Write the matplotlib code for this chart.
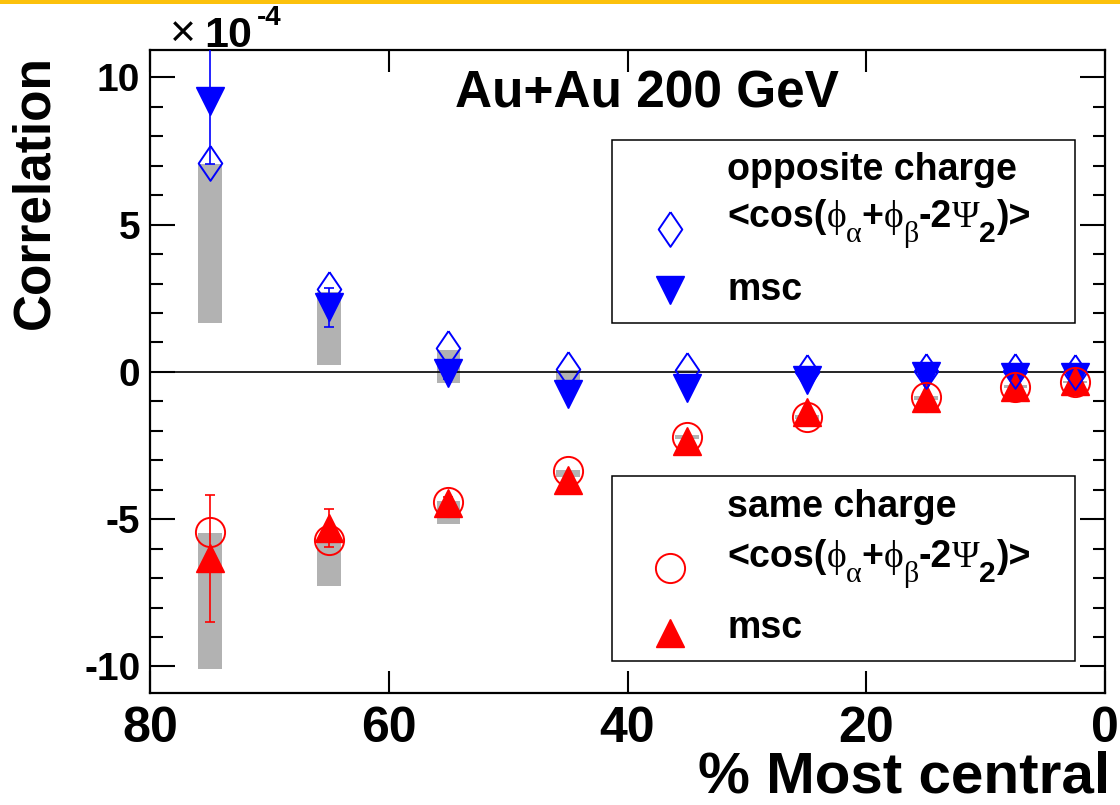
import numpy as np
import matplotlib
matplotlib.use("Agg")
import matplotlib.pyplot as plt
from matplotlib.lines import Line2D
from matplotlib.patches import Rectangle

plt.rcParams["font.family"] = ["Liberation Sans", "DejaVu Sans"]
plt.rcParams["font.weight"] = "bold"
plt.rcParams["axes.unicode_minus"] = False

# centrality bins (% most central) and correlations in units of 1e-4
centrality = [75, 65, 55, 45, 35, 25, 15, 7.5, 2.5]
opp_cos = [7.1, 2.8, 0.82, 0.1, 0.05, 0.0, 0.02, 0.02, 0.0]
opp_msc = [9.2, 2.2, -0.05, -0.75, -0.55, -0.27, -0.13, -0.18, -0.18]
same_cos = [-5.45, -5.7, -4.4, -3.36, -2.22, -1.53, -0.85, -0.5, -0.33]
same_msc = [-6.33, -5.3, -4.45, -3.66, -2.34, -1.35, -0.9, -0.5, -0.3]
msc_err = [2.15, 0.66, 0.2, 0.1, 0.08, 0.05, 0.04, 0.03, 0.03]

# systematic bands (low, high)
opp_sys_lo = [1.67, 0.25, -0.37, -0.27, -0.05, -0.05, -0.03, -0.03, -0.02]
opp_sys_hi = [7.05, 2.7, 0.75, 0.07, 0.05, 0.02, 0.02, 0.02, 0.01]
same_sys_lo = [-10.07, -7.28, -5.15, -3.57, -2.28, -1.6, -0.95, -0.55, -0.38]
same_sys_hi = [-5.48, -5.7, -4.38, -3.33, -2.15, -1.45, -0.8, -0.45, -0.3]

W, H = 1120, 805
BLUE = "#0000ff"
RED = "#ff0000"
GRAY = "#b2b2b2"
DIAMOND = [(0, 1), (0.68, 0), (0, -1), (-0.68, 0), (0, 1)]
SERIF = ["Liberation Serif", "DejaVu Serif"]


def fx(px):
    return px / W


def fy(py):
    return 1 - py / H


fig = plt.figure(figsize=(W / 100, H / 100), dpi=100)
ax = fig.add_axes([fx(150), fy(693), (1105 - 150) / W, (693 - 50) / H])

x = np.array(centrality)
ax.bar(x, np.array(opp_sys_hi) - np.array(opp_sys_lo), bottom=opp_sys_lo,
       width=2.0, color=GRAY, zorder=1)
ax.bar(x, np.array(same_sys_hi) - np.array(same_sys_lo), bottom=same_sys_lo,
       width=2.0, color=GRAY, zorder=1)
ax.axhline(0, color="black", lw=1.2, zorder=2)

ax.errorbar(x, opp_msc, yerr=msc_err, fmt="none", ecolor=BLUE, elinewidth=1.2,
            capsize=3.5, capthick=1.2, zorder=3)
ax.errorbar(x, same_msc, yerr=msc_err, fmt="none", ecolor=RED, elinewidth=1.2,
            capsize=3.5, capthick=1.2, zorder=3)

ax.plot(x, opp_msc, ls="none", marker="v", ms=19.5, color=BLUE, mec=BLUE, zorder=4)
ax.plot(x, same_msc, ls="none", marker="^", ms=19.5, color=RED, mec=RED, zorder=4)
ax.plot(x, opp_cos, ls="none", marker=DIAMOND, ms=25, mfc="none", mec=BLUE,
        mew=1.4, zorder=5)
ax.plot(x, same_cos, ls="none", marker="o", ms=21, mfc="none", mec=RED,
        mew=1.4, zorder=5)

ax.set_xlim(80, 0)
ax.set_ylim(-10.9, 10.93)
ax.set_xticks([80, 60, 40, 20, 0])
ax.set_yticks([-10, -5, 0, 5, 10])
ax.set_yticks(np.arange(-10, 11, 1), minor=True)
ax.tick_params(axis="both", which="both", direction="in", top=True, right=True,
               width=1.5, colors="black")
ax.tick_params(axis="y", which="major", length=18, pad=7, labelsize=28)
ax.tick_params(axis="y", which="minor", length=9)
ax.tick_params(axis="x", which="major", length=16, pad=9, labelsize=36)
for s in ax.spines.values():
    s.set_linewidth(1.6)

# axis titles, energy label and exponent
fig.text(fx(1110), fy(804), "% Most central", ha="right", va="bottom",
         fontsize=42, fontweight="bold")
fig.text(fx(35), fy(192), "Correlation", ha="center", va="center",
         rotation=90, fontsize=37, fontweight="bold")
fig.text(fx(647), fy(107), "Au+Au 200 GeV", ha="center", va="baseline",
         fontsize=37, fontweight="bold")
fig.text(fx(170), fy(46), "\u00d7", ha="left", va="baseline", fontsize=32,
         fontweight="normal")
fig.text(fx(204), fy(47), "10", ha="left", va="baseline", fontsize=31,
         fontweight="bold")
fig.text(fx(257), fy(25), "-4", ha="left", va="baseline", fontsize=20,
         fontweight="bold")

renderer = fig.canvas.get_renderer()


def run_text(x0, base, pieces, size=27):
    """Lay out text pieces left to right; subscripts are dropped below the baseline."""
    xp = x0
    for s, sub, serif in pieces:
        t = fig.text(fx(xp), fy(base + (15 if sub else 0)), s, va="baseline",
                     fontsize=size * (0.8 if sub else 1.0),
                     family=SERIF if serif else None,
                     fontweight="normal" if serif else "bold", zorder=7)
        xp += t.get_window_extent(renderer).width


cos_pieces = [
    ("<cos(", False, False), ("\u03d5", False, True), ("\u03b1", True, True),
    ("+", False, False), ("\u03d5", False, True), ("\u03b2", True, True),
    ("-2", False, False), ("\u03a8", False, True), ("2", True, False),
    (")>", False, False),
]

# legend boxes
boxes = [
    (140, 323, "opposite charge", [180, 227, 300], (229, 290),
     dict(marker=DIAMOND, ms=25, mfc="none", mec=BLUE, mew=1.4),
     dict(marker="v", ms=19.5, color=BLUE)),
    (476, 661, "same charge", [517, 567, 638], (568, 633),
     dict(marker="o", ms=21, mfc="none", mec=RED, mew=1.4),
     dict(marker="^", ms=19.5, color=RED)),
]
for top, bot, head, bases, mk_y, open_kw, msc_kw in boxes:
    fig.add_artist(Rectangle((fx(612), fy(bot)), (1075 - 612) / W, (bot - top) / H,
                             transform=fig.transFigure, facecolor="white",
                             edgecolor="black", lw=1.1, zorder=6))
    fig.text(fx(727), fy(bases[0]), head, va="baseline", fontsize=27,
             fontweight="bold", zorder=7)
    run_text(727, bases[1], cos_pieces)
    fig.text(fx(727), fy(bases[2]), "msc", va="baseline", fontsize=27,
             fontweight="bold", zorder=7)
    fig.add_artist(Line2D([fx(670)], [fy(mk_y[0])], ls="none",
                          transform=fig.transFigure, zorder=7, **open_kw))
    fig.add_artist(Line2D([fx(670)], [fy(mk_y[1])], ls="none",
                          transform=fig.transFigure, zorder=7, **msc_kw))

# top strip
fig.add_artist(Rectangle((0, fy(4)), 1, 4 / H, transform=fig.transFigure,
                         facecolor="#fcc10c", edgecolor="none", zorder=8))

fig.savefig("out.png", dpi=100)
